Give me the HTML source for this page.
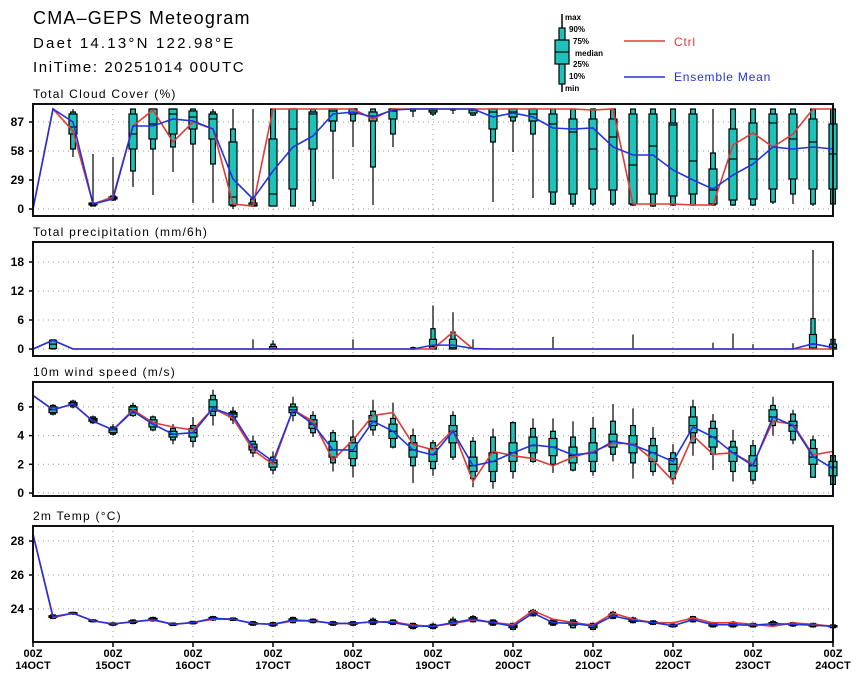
<!DOCTYPE html>
<html><head><meta charset="utf-8"><style>
body{margin:0;background:#fff}
svg{display:block;font-family:"Liberation Sans",sans-serif}
.t{font-size:18px;fill:#000}
.pt{font-size:12px;fill:#000;letter-spacing:1.25px}
.yl{font-size:12px;font-weight:bold;fill:#000}
.xl{font-size:11px;font-weight:bold;fill:#000}
</style></head><body>
<svg id="c" width="860" height="680" viewBox="0 0 860 680">
<text class="t" x="33" y="24" style="letter-spacing:1.2px">CMA–GEPS Meteogram</text>
<text class="t" x="33" y="48" style="font-size:15px;letter-spacing:2.2px">Daet 14.13°N 122.98°E</text>
<text class="t" x="33" y="72" style="font-size:15px;letter-spacing:1.6px">IniTime: 20251014 00UTC</text>
<g>
<line x1="562" y1="14" x2="562" y2="92" stroke="#000" stroke-width="1.5"/>
<rect x="559" y="28" width="6" height="56" fill="#1fc2b8" stroke="#000" stroke-width="1.2"/>
<rect x="555" y="40" width="14" height="24" fill="#1fc2b8" stroke="#000" stroke-width="1.2"/>
<line x1="555" y1="52" x2="569" y2="52" stroke="#000" stroke-width="1.2"/>
<text x="565" y="20" style="font-size:8px;font-weight:bold">max</text>
<text x="569" y="32" style="font-size:8px;font-weight:bold">90%</text>
<text x="573" y="44" style="font-size:8px;font-weight:bold">75%</text>
<text x="575" y="56" style="font-size:8px;font-weight:bold">median</text>
<text x="573" y="67" style="font-size:8px;font-weight:bold">25%</text>
<text x="569" y="79" style="font-size:8px;font-weight:bold">10%</text>
<text x="565" y="91" style="font-size:8px;font-weight:bold">min</text>
<line x1="624" y1="41" x2="665" y2="41" stroke="#e03a36" stroke-width="1.5"/>
<text x="674" y="46" style="font-size:12px;fill:#e03a36;letter-spacing:0.8px">Ctrl</text>
<line x1="624" y1="77" x2="665" y2="77" stroke="#2233dd" stroke-width="1.5"/>
<text x="674" y="81" style="font-size:12px;fill:#2233dd;letter-spacing:0.8px">Ensemble Mean</text>
</g>
</svg>
<script>
const days=["14OCT","15OCT","16OCT","17OCT","18OCT","19OCT","20OCT","21OCT","22OCT","23OCT","24OCT"];
const cloudTicks=[0,29,58,87];
const precipTicks=[0,6,12,18];
const windTicks=[0,2,4,6];
const tempTicks=[24,26,28];
const cloudCtrl=[0,100,78,5,12,83,99,67,87,80,5,3,100,100,100,100,100,90,100,100,100,100,100,100,100,100,100,100,99,100,5,5,5,4,4,64,76,62,75,100,100];
const cloudMean=[0,100,87,5,10,83,83,90,88,80,30,10,38,62,73,95,97,92,99,100,100,100,100,92,96,92,81,80,81,62,54,54,39,29,20,34,45,62,60,62,60];
const cloudBox=[null,[99,100,100,100,100,100,100],[52,60,75,82,95,97,100],[3,3,4,5,6,6,55],[8,9,10,11,12,13,52],[22,38,60,75,95,100,100],[14,60,70,85,100,100,100],[37,62,75,95,100,100,100],[6,65,80,92,98,100,100],[6,45,70,90,95,97,100],[0,3,4,12,67,80,100],[2,3,3,4,6,10,100],[3,3,3,15,70,100,100],[3,3,20,80,100,100,100],[3,8,60,95,97,100,100],[30,78,88,98,100,100,100],[62,88,95,100,100,100,100],[4,42,88,93,97,100,100],[62,75,90,98,100,100,100],[92,98,100,100,100,100,100],[93,95,97,99,100,100,100],[95,99,100,100,100,100,100],[93,94,96,99,100,100,100],[7,67,80,97,100,100,100],[57,88,92,97,100,100,100],[11,75,88,95,100,100,100],[4,5,17,85,95,100,100],[2,5,15,77,90,100,100],[3,5,20,60,90,100,100],[3,5,19,72,90,100,100],[3,4,5,44,95,100,100],[2,3,15,63,95,100,100],[3,4,13,84,86,100,100],[3,4,15,48,95,100,100],[3,4,5,19,40,56,100],[3,4,9,50,80,100,100],[3,4,10,50,86,100,100],[5,7,20,86,95,100,100],[5,15,30,70,95,100,100],[3,5,20,67,90,100,100],[3,5,20,55,85,100,100]];
const precipCtrl=[0,1.8,0,0,0,0,0,0,0,0,0,0,0,0,0,0,0,0,0,0,0,3.5,0,0,0,0,0,0,0,0,0,0,0,0,0,0,0,0,0,0,0];
const precipMean=[0,1.8,0,0,0,0,0,0,0,0,0,0,0,0,0,0,0,0,0,0,0.8,0.8,0.1,0,0,0,0,0,0,0,0,0,0,0,0,0,0,0,0,1.1,0.3];
const precipBox=[null,[0,0,0.1,1,1.8,1.9,2],null,null,null,null,null,null,null,null,null,[0,0,0,0,0,0,2],[0,0,0,0.1,0.5,1,1.8],null,null,null,[0,0,0,0,0,0,2],null,null,[0,0,0,0,0.1,0.3,0.5],[0,0,0,0.5,2,4.2,9],[0,0,0,0.3,2,3.5,7.6],[0,0,0,0,0,0,2],null,null,null,[0,0,0,0,0,0,2.5],null,null,null,[0,0,0,0,0,0,3],null,null,null,[0,0,0,0,0,0,1.3],[0,0,0,0,0,0,3.2],[0,0,0,0,0,0,1],null,[0,0,0,0,0,0,1.2],[0,0,0.2,1,3,6.3,20.5],[0,0,0,0.3,1,2,2]];
const windCtrl=[6.8,5.8,6.2,5.0,4.4,5.8,4.9,4.6,4.4,5.9,5.2,3.0,2.0,5.8,5.0,2.3,3.7,5.4,5.6,3.4,3.0,4.4,0.8,2.9,2.6,2.4,1.9,2.5,2.9,3.45,3.45,2.3,0.85,4.0,2.7,2.8,2.0,5.0,4.8,2.65,2.9];
const windMean=[6.8,5.8,6.2,5.0,4.4,5.7,4.8,4.1,4.2,5.9,5.4,3.2,2.2,5.8,4.8,3.0,3.0,5.0,4.3,3.0,2.65,4.3,1.9,2.2,2.8,3.35,3.2,2.65,2.8,3.6,3.35,2.8,2.2,4.6,3.9,2.8,1.9,5.3,4.7,2.55,1.7];
const windBox=[null,[5.4,5.5,5.6,5.8,6.0,6.1,6.2],[5.9,6.0,6.1,6.2,6.3,6.4,6.5],[4.8,4.9,5.0,5.1,5.2,5.3,5.4],[4.0,4.1,4.2,4.4,4.5,4.6,4.8],[5.3,5.4,5.6,5.8,6.0,6.1,6.3],[4.3,4.4,4.6,4.9,5.1,5.3,5.4],[3.4,3.7,3.9,4.1,4.3,4.5,4.8],[3.2,3.6,3.9,4.2,4.5,4.7,5.3],[4.7,5.4,5.7,6.0,6.5,6.8,7.2],[4.8,5.1,5.3,5.5,5.6,5.7,6.0],[2.5,2.8,3.0,3.2,3.4,3.6,4.0],[1.3,1.6,1.8,2.1,2.3,2.5,2.9],[5.0,5.4,5.6,5.8,6.0,6.2,6.7],[3.9,4.2,4.5,4.8,5.1,5.4,5.7],[1.5,2.1,2.5,3.0,3.6,4.2,4.4],[1.1,1.9,2.4,2.9,3.5,3.9,5.1],[4.0,4.4,4.7,5.0,5.4,5.7,6.5],[3.1,3.2,3.8,4.3,4.8,5.2,6.3],[0.7,1.9,2.5,3.0,3.5,4.0,4.5],[1.2,1.7,2.2,2.7,3.1,3.5,3.7],[2.3,2.5,3.5,4.3,4.7,5.4,5.7],[0.4,1.0,1.5,1.9,2.5,3.6,3.9],[0.3,0.8,1.5,2.2,2.8,3.9,4.5],[1.0,1.5,2.2,2.8,3.5,4.9,5.0],[2.1,2.2,2.8,3.3,3.9,4.5,5.2],[1.4,2.0,2.6,3.2,3.8,4.3,5.2],[1.5,1.6,2.1,2.6,3.2,3.9,5.0],[1.2,1.5,2.2,2.8,3.5,4.5,5.3],[2.2,2.7,3.2,3.6,4.1,5.0,6.2],[1.0,2.1,2.8,3.4,4.0,4.7,5.9],[1.2,1.5,2.2,2.8,3.3,3.8,4.6],[0.6,1.0,1.5,2.0,2.4,2.8,3.4],[2.6,3.5,4.2,4.7,5.3,6.0,6.5],[1.6,2.7,3.2,3.9,4.5,5.0,5.5],[0.8,1.5,2.2,2.8,3.2,3.6,4.4],[0.6,0.9,1.5,1.9,2.6,3.3,3.7],[4.0,4.7,5.0,5.3,5.8,6.1,6.7],[3.4,3.7,4.3,4.7,5.0,5.5,5.8],[1.1,1.1,2.0,2.5,3.1,3.7,4.0],[0.4,0.6,1.2,1.8,2.2,2.6,2.8]];
const tempCtrl=[28.4,23.5,23.75,23.3,23.12,23.25,23.35,23.1,23.2,23.4,23.4,23.15,23.1,23.3,23.3,23.15,23.15,23.25,23.25,23.05,22.98,23.15,23.35,23.2,23.08,23.9,23.4,23.2,23.05,23.76,23.4,23.2,23.18,23.47,23.18,23.2,23.1,22.98,23.18,23.1,22.98];
const tempMean=[28.4,23.55,23.75,23.3,23.12,23.25,23.38,23.1,23.2,23.45,23.4,23.15,23.1,23.35,23.3,23.15,23.15,23.25,23.2,23.0,22.98,23.2,23.4,23.2,22.98,23.76,23.2,23.15,23.0,23.6,23.33,23.2,23.02,23.37,23.08,23.08,23.04,23.14,23.1,23.05,22.98];
const tempBox=[null,[23.4,23.45,23.5,23.55,23.6,23.65,23.7],[23.65,23.7,23.72,23.75,23.78,23.8,23.85],[23.2,23.25,23.28,23.3,23.33,23.36,23.4],[23.0,23.05,23.08,23.12,23.15,23.18,23.22],[23.1,23.15,23.2,23.25,23.3,23.35,23.4],[23.25,23.3,23.35,23.4,23.45,23.5,23.55],[23.0,23.03,23.07,23.1,23.13,23.17,23.2],[23.1,23.13,23.17,23.2,23.23,23.27,23.3],[23.3,23.35,23.4,23.45,23.5,23.55,23.6],[23.3,23.33,23.37,23.4,23.43,23.47,23.5],[23.0,23.05,23.1,23.15,23.2,23.25,23.3],[22.95,23.0,23.05,23.1,23.15,23.2,23.25],[23.15,23.2,23.28,23.35,23.42,23.5,23.55],[23.15,23.2,23.25,23.3,23.35,23.4,23.45],[23.0,23.05,23.1,23.15,23.2,23.25,23.3],[23.0,23.05,23.1,23.15,23.2,23.25,23.3],[23.05,23.1,23.18,23.25,23.32,23.4,23.5],[23.05,23.1,23.15,23.2,23.28,23.35,23.4],[22.8,22.85,22.92,23.0,23.08,23.15,23.2],[22.8,22.85,22.92,22.98,23.05,23.1,23.2],[23.0,23.05,23.12,23.2,23.3,23.4,23.55],[23.2,23.25,23.32,23.4,23.48,23.55,23.65],[23.0,23.05,23.12,23.2,23.28,23.35,23.4],[22.75,22.8,22.9,22.98,23.05,23.15,23.2],[23.55,23.6,23.68,23.76,23.85,23.92,24.0],[23.0,23.05,23.12,23.2,23.28,23.35,23.4],[22.85,22.9,23.05,23.15,23.25,23.35,23.4],[22.75,22.8,22.9,23.0,23.1,23.15,23.2],[23.4,23.45,23.52,23.6,23.7,23.8,23.9],[23.15,23.2,23.27,23.33,23.4,23.47,23.55],[23.05,23.1,23.15,23.2,23.25,23.3,23.35],[22.9,22.95,22.98,23.02,23.06,23.1,23.15],[23.2,23.25,23.3,23.37,23.45,23.55,23.6],[22.9,22.95,23.0,23.08,23.15,23.2,23.25],[22.9,22.95,23.0,23.08,23.15,23.22,23.3],[22.9,22.95,23.0,23.04,23.1,23.15,23.2],[23.0,23.05,23.1,23.14,23.2,23.25,23.35],[22.95,23.0,23.05,23.1,23.15,23.2,23.25],[22.9,22.95,23.0,23.05,23.1,23.15,23.2],[22.85,22.9,22.95,22.98,23.02,23.06,23.1]];

const NS="http://www.w3.org/2000/svg";
const svg=document.getElementById('c');
function mk(tag,attrs,parent){const e=document.createElementNS(NS,tag);for(const k in attrs)e.setAttribute(k,attrs[k]);(parent||svg).appendChild(e);return e;}
const X0=33,X1=833;
function xs(i){return X0+i*(X1-X0)/40;}

function panel(name,title,top,bot,ticks,y,ctrl,mean,box,bw){
  const g=mk('g',{});
  
  
  const tt=mk('text',{x:33,y:top-6,class:'pt'},g);tt.textContent=title;
  
  
  for(let d=1;d<10;d++){const gl=mk('line',{x1:X0+d*80,x2:X0+d*80,y1:top,y2:bot,stroke:'#999','stroke-width':1,'stroke-dasharray':'1,4'},g);
    
    }
  ticks.forEach(v=>{const yy=y(v);
    const hl=mk('line',{x1:X0,x2:X1,y1:yy,y2:yy,stroke:'#999','stroke-width':1,'stroke-dasharray':'1,4'},g);
    
    
    mk('line',{x1:X0-4,x2:X0,y1:yy,y2:yy,stroke:'#000','stroke-width':1.5},g);
    const tl=mk('text',{x:X0-9,y:yy+4,class:'yl','text-anchor':'end'},g);tl.textContent=v;
    
    });
  box.forEach((b,i)=>{if(!b)return;const x=xs(i);
    const bg=mk('g',{},g);
    
    
    mk('line',{x1:x,x2:x,y1:y(b[0]),y2:y(b[6]),stroke:'#000','stroke-width':1.2},bg);
    const nw=bw*0.6;
    if(y(b[1])-y(b[5])>0.5) mk('rect',{x:x-nw/2,y:y(b[5]),width:nw,height:Math.max(1,y(b[1])-y(b[5])),fill:'#1fc2b8',stroke:'#000','stroke-width':1.2},bg);
    if(y(b[2])-y(b[4])>0.5) mk('rect',{x:x-bw/2,y:y(b[4]),width:bw,height:Math.max(1,y(b[2])-y(b[4])),fill:'#1fc2b8',stroke:'#000','stroke-width':1.2},bg);
    if(y(b[1])-y(b[5])>0.5) mk('line',{x1:x-bw/2,x2:x+bw/2,y1:y(b[3]),y2:y(b[3]),stroke:'#000','stroke-width':1.2},bg);
  });
  const pc=mk('polyline',{points:ctrl.map((v,i)=>xs(i)+','+y(v)).join(' '),fill:'none',stroke:'#e03a36','stroke-width':1.6},g);
  
  
  const pm=mk('polyline',{points:mean.map((v,i)=>xs(i)+','+y(v)).join(' '),fill:'none',stroke:'#2233dd','stroke-width':1.6},g);
  
  
  const fr=mk('rect',{x:X0,y:top,width:X1-X0,height:bot-top,fill:'none',stroke:'#111','stroke-width':2},g);
  
  
}
panel('cloud-cover','Total Cloud Cover (%)',104,216,cloudTicks,v=>209-v*1.0,cloudCtrl,cloudMean,cloudBox,8);
panel('precipitation','Total precipitation (mm/6h)',242,356,precipTicks,v=>349-v*29/6,precipCtrl,precipMean,precipBox,7);
panel('wind-speed','10m wind speed (m/s)',382,496,windTicks,v=>493-v*14.35,windCtrl,windMean,windBox,8);
panel('temperature','2m Temp (°C)',526,642,tempTicks,v=>609-(v-24)*17,tempCtrl,tempMean,tempBox,8);
days.forEach((d,k)=>{const x=X0+k*80;
  mk('line',{x1:x,x2:x,y1:642,y2:647,stroke:'#000','stroke-width':1.5});
  const a=mk('text',{x:x,y:657,class:'xl','text-anchor':'middle'});a.textContent='00Z';
  
  
  const b=mk('text',{x:x,y:669,class:'xl','text-anchor':'middle'});b.textContent=d;
  
  
});
</script>
</body></html>
